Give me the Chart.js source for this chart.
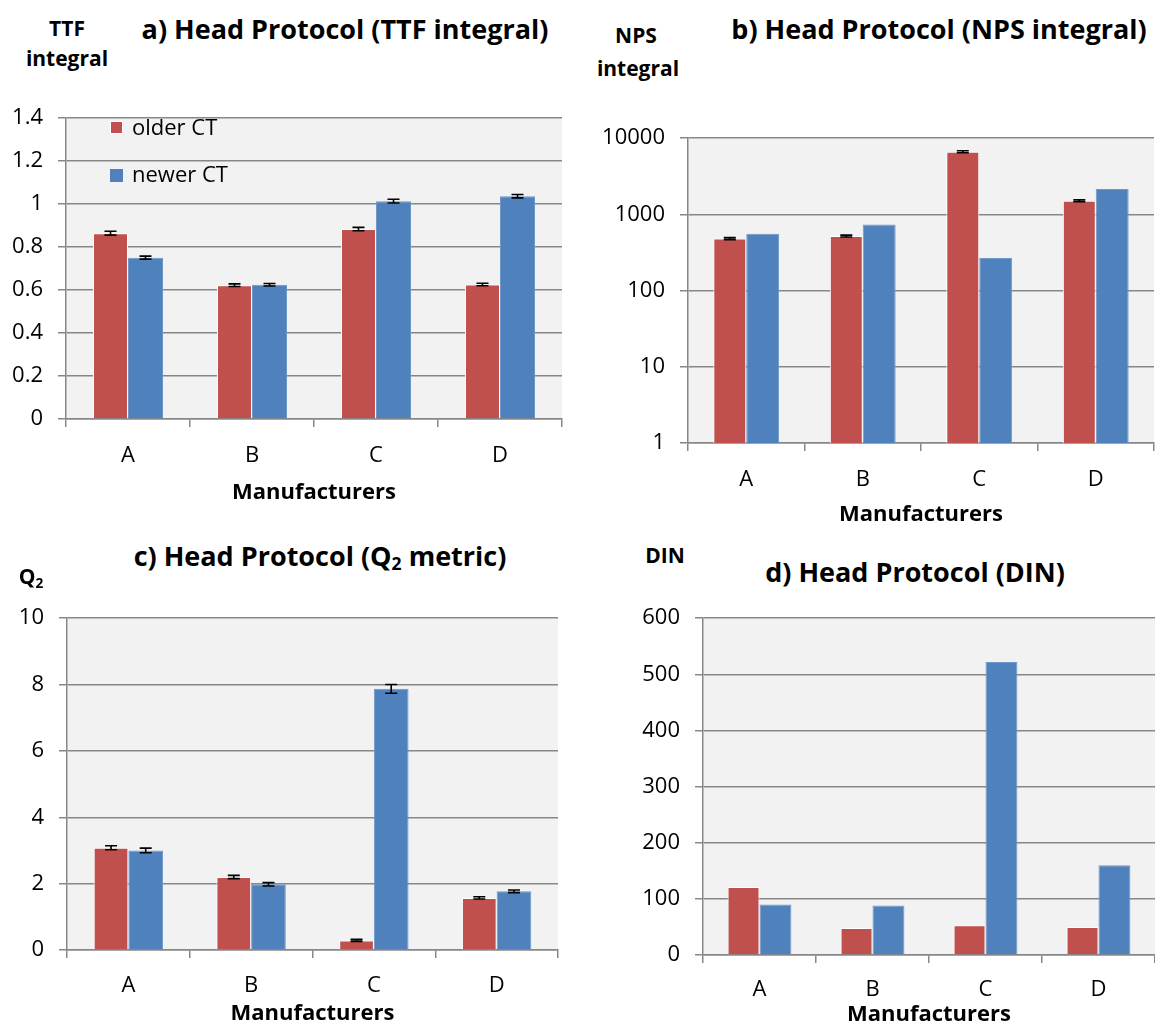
<!DOCTYPE html>
<html>
<head>
<meta charset="utf-8">
<script src="https://cdn.jsdelivr.net/npm/chart.js@4"></script>
<style>
  html, body { margin:0; padding:0; background:#fff; }
  body { width:1155px; height:1028px; position:relative; overflow:hidden; font-family:'Open Sans', sans-serif; color:#000; }
  .cv { position:absolute; }
  .t { position:absolute; transform:translate(-50%,-50%); white-space:nowrap; line-height:1; font-weight:700; }
  .title { font-size:27px; }
  .ylab { font-size:21px; }
  .leg { position:absolute; font-size:22px; line-height:1; white-space:nowrap; }
  .sw { position:absolute; width:13px; height:13px; box-sizing:border-box; }
  sub { font-size:0.65em; vertical-align:-0.25em; }
</style>
</head>
<body>
<canvas id="ca" class="cv" style="left:0px;top:90px;width:572px;height:420px" width="572" height="420"></canvas>
<canvas id="cb" class="cv" style="left:580px;top:110px;width:575px;height:420px" width="575" height="420"></canvas>
<canvas id="cc" class="cv" style="left:0px;top:590px;width:570px;height:438px" width="570" height="438"></canvas>
<canvas id="cd" class="cv" style="left:600px;top:590px;width:555px;height:438px" width="555" height="438"></canvas>

<div class="t title" style="left:345px;top:28px">a) Head Protocol (TTF integral)</div>
<div class="t title" style="left:939px;top:28px">b) Head Protocol (NPS integral)</div>
<div class="t title" style="left:320px;top:557px">c) Head Protocol (Q<sub>2</sub> metric)</div>
<div class="t title" style="left:915px;top:571px">d) Head Protocol (DIN)</div>

<div class="t ylab" style="left:67px;top:28px">TTF</div>
<div class="t ylab" style="left:67px;top:58px">integral</div>
<div class="t ylab" style="left:636px;top:35px">NPS</div>
<div class="t ylab" style="left:638px;top:68px">integral</div>
<div class="t ylab" style="left:31px;top:578px">Q<sub>2</sub></div>
<div class="t ylab" style="left:665px;top:555px">DIN</div>

<div class="sw" style="left:110px;top:121px;background:#C0504D;border:1px solid #fff"></div>
<div class="leg" style="left:132px;top:115px">older CT</div>
<div class="sw" style="left:110px;top:169px;background:#4F81BD"></div>
<div class="leg" style="left:132px;top:162px">newer CT</div>

<script>
// ---------- data ----------
const categories = ['A', 'B', 'C', 'D'];
const seriesNames = ['older CT', 'newer CT'];

const ttfOlder = [0.865, 0.623, 0.884, 0.626];
const ttfNewer = [0.751, 0.625, 1.014, 1.037];
const ttfOlderErr = [0.009, 0.006, 0.008, 0.006];
const ttfNewerErr = [0.007, 0.006, 0.009, 0.008];
const ttfTicks = [0, 0.2, 0.4, 0.6, 0.8, 1, 1.2, 1.4];

const npsOlder = [481, 519, 6650, 1514];
const npsNewer = [557, 739, 267, 2155];
const npsOlderErr = [14, 15, 200, 45];
const npsTicks = [1, 10, 100, 1000, 10000];

const q2Older = [3.08, 2.2, 0.29, 1.57];
const q2Newer = [3.0, 1.98, 7.87, 1.77];
const q2OlderErr = [0.06, 0.05, 0.03, 0.035];
const q2NewerErr = [0.07, 0.05, 0.13, 0.04];
const q2Ticks = [0, 2, 4, 6, 8, 10];

const dinOlder = [121, 48, 53, 50];
const dinNewer = [90, 88, 522, 160];
const dinTicks = [0, 100, 200, 300, 400, 500, 600];

// ---------- styling ----------
const RED = '#C0504D', BLUE = '#4F81BD', GRID = '#878787';
Chart.defaults.font.family = "'Open Sans', sans-serif";
Chart.defaults.font.size = 22;
Chart.defaults.color = '#000';
Chart.defaults.animation = false;

const bgPlugin = {
  id: 'plotBg',
  beforeDraw(chart) {
    const a = chart.chartArea, c = chart.ctx;
    c.save(); c.fillStyle = '#F2F2F2';
    c.fillRect(a.left, a.top, a.right - a.left, a.bottom - a.top);
    c.restore();
  }
};

const errPlugin = {
  id: 'errBars',
  afterDatasetsDraw(chart) {
    const c = chart.ctx, ys = chart.scales.y;
    chart.data.datasets.forEach((ds, di) => {
      if (!ds.err) return;
      const meta = chart.getDatasetMeta(di);
      meta.data.forEach((bar, i) => {
        const v = ds.data[i], e = ds.err[i];
        if (!e) return;
        const y1 = ys.getPixelForValue(v + e), y0 = ys.getPixelForValue(v - e);
        const x = bar.x;
        c.save(); c.strokeStyle = '#000'; c.lineWidth = 1.6;
        c.beginPath();
        c.moveTo(x, y0); c.lineTo(x, y1);
        c.moveTo(x - 6, y1); c.lineTo(x + 6, y1);
        c.moveTo(x - 6, y0); c.lineTo(x + 6, y0);
        c.stroke(); c.restore();
      });
    });
  }
};

// o.area: desired plot area inside the canvas {left, top, right, bottom}
function makeChart(id, o) {
  const canvas = document.getElementById(id);
  const ds = [
    { label: seriesNames[0], data: o.older, err: o.olderErr, backgroundColor: RED, borderColor: '#ffffff', borderWidth: 1 },
    { label: seriesNames[1], data: o.newer, err: o.newerErr, backgroundColor: BLUE, borderColor: '#6f97c9', borderWidth: 1 }
  ];
  const st = { yW: o.area.left, xH: canvas.height - o.area.bottom };
  const pad = { top: o.area.top, right: canvas.width - o.area.right, left: 0, bottom: 0 };
  const yScale = {
    type: o.log ? 'logarithmic' : 'linear',
    min: o.ticks[0], max: o.ticks[o.ticks.length - 1],
    afterBuildTicks: s => { s.ticks = o.ticks.map(v => ({ value: v })); },
    afterFit: s => { s.width = st.yW; },
    ticks: { padding: 15, font: { size: 22 }, callback: v => String(Number(v.toFixed(2))) },
    grid: { color: GRID, lineWidth: 1.5, tickLength: 8, drawTicks: true },
    border: { display: true, color: GRID, width: 1.5 }
  };
  if (!o.log) yScale.ticks.stepSize = o.ticks[1] - o.ticks[0];
  const chart = new Chart(canvas, {
    type: 'bar',
    data: { labels: categories, datasets: ds },
    options: {
      responsive: false,
      maintainAspectRatio: false,
      layout: { padding: pad },
      datasets: { bar: { categoryPercentage: 0.565, barPercentage: 1.0 } },
      plugins: { legend: { display: false }, tooltip: { enabled: false }, title: { display: false } },
      scales: {
        x: {
          offset: true,
          afterFit: s => { s.height = st.xH; },
          ticks: { padding: o.tp, font: { size: 22 } },
          grid: { drawOnChartArea: false, drawTicks: true, tickLength: 8, color: GRID, lineWidth: 1.5, offset: true },
          border: { display: true, color: GRID, width: 1.5 },
          title: { display: true, text: 'Manufacturers', font: { size: 22, weight: 'bold' }, padding: { top: 0, bottom: o.tb } }
        },
        y: yScale
      }
    },
    plugins: [bgPlugin, errPlugin]
  });
  // nudge the layout so the plot area lands exactly where wanted
  for (let k = 0; k < 5; k++) {
    const a = chart.chartArea;
    const dT = o.area.top - a.top, dL = o.area.left - a.left, dR = a.right - o.area.right, dB = o.area.bottom - a.bottom;
    if (Math.abs(dT) < 0.5 && Math.abs(dL) < 0.5 && Math.abs(dR) < 0.5 && Math.abs(dB) < 0.5) break;
    const p = chart.config.options.layout.padding;
    p.top = Math.max(0, p.top + dT);
    p.right = Math.max(0, p.right + dR);
    st.yW += dL;
    st.xH -= dB;
    chart.update();
  }
  return chart;
}

makeChart('ca', { older: ttfOlder, newer: ttfNewer, olderErr: ttfOlderErr, newerErr: ttfNewerErr, ticks: ttfTicks,
  area: { left: 66, top: 16, right: 562, bottom: 329 }, tp: 16, tb: 4 });
makeChart('cb', { older: npsOlder, newer: npsNewer, olderErr: npsOlderErr, newerErr: null, ticks: npsTicks, log: true,
  area: { left: 108, top: 20, right: 574, bottom: 333 }, tp: 16, tb: 2 });
makeChart('cc', { older: q2Older, newer: q2Newer, olderErr: q2OlderErr, newerErr: q2NewerErr, ticks: q2Ticks,
  area: { left: 67, top: 17, right: 558, bottom: 360 }, tp: 15, tb: 1 });
makeChart('cd', { older: dinOlder, newer: dinNewer, olderErr: null, newerErr: null, ticks: dinTicks,
  area: { left: 103, top: 21, right: 555, bottom: 365 }, tp: 14, tb: 0 });
</script>
</body>
</html>
